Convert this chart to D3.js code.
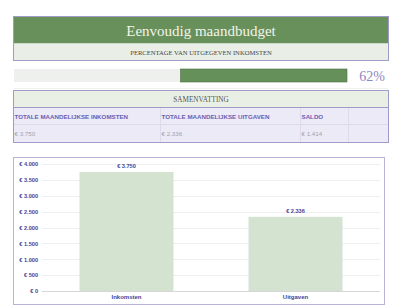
<!DOCTYPE html>
<html>
<head>
<meta charset="utf-8">
<script src="https://cdn.jsdelivr.net/npm/d3@7"></script>
<style>
  body { margin: 0; background: #fff; }
  svg { display: block; }
</style>
</head>
<body>
<svg id="chart" width="400" height="308"></svg>
<script>
// gegevens
var categories = ['Inkomsten', 'Uitgaven'];
var amounts = [3750, 2336];
var yTicks = [0, 500, 1000, 1500, 2000, 2500, 3000, 3500, 4000];
var summaryHeaders = ['TOTALE MAANDELIJKSE INKOMSTEN', 'TOTALE MAANDELIJKSE UITGAVEN', 'SALDO'];
var summaryValues = [3750, 2336, 1414];
var percentSpent = 62;

var svg = d3.select('#chart');
var euro = function (v) {
    return '€ ' + d3.format(',')(v).replace(/,/g, '.');
};
var serif = '"Liberation Serif", "DejaVu Serif", serif';
var sans = '"Liberation Sans", Arial, sans-serif';
var border = '#9f9bc8';

// titelblok
svg.append('rect').attr('x', 13.5).attr('y', 16.5).attr('width', 375).attr('height', 27)
    .attr('fill', '#67905b');
svg.append('rect').attr('x', 13.5).attr('y', 43.5).attr('width', 375).attr('height', 17)
    .attr('fill', '#e9eee6');
svg.append('rect').attr('x', 13.5).attr('y', 16.5).attr('width', 375).attr('height', 44)
    .attr('fill', 'none').attr('stroke', border);
svg.append('text').attr('x', 201).attr('y', 35.5).attr('text-anchor', 'middle')
    .attr('font-family', serif).attr('font-size', 15).attr('fill', '#f4f4e8')
    .text('Eenvoudig maandbudget');
svg.append('text').attr('x', 201).attr('y', 55).attr('text-anchor', 'middle')
    .attr('font-family', serif).attr('font-size', 6.6).attr('fill', '#444')
    .text('PERCENTAGE VAN UITGEGEVEN INKOMSTEN');

// voortgangsbalk
var px = d3.scaleLinear().domain([-percentSpent, percentSpent]).range([14, 347]);
svg.append('rect').attr('x', px(-percentSpent)).attr('y', 69).attr('width', px(percentSpent) - px(-percentSpent))
    .attr('height', 13).attr('fill', '#eef0ed');
svg.append('rect').attr('x', px(0)).attr('y', 69).attr('width', px(percentSpent) - px(0))
    .attr('height', 13).attr('fill', '#66905a').attr('stroke', '#4e6e44').attr('stroke-width', 0.6);
svg.append('line').attr('x1', 14).attr('x2', 388).attr('y1', 88.5).attr('y2', 88.5)
    .attr('stroke', '#f0f0f0');
svg.append('text').attr('x', 385).attr('y', 80.5).attr('text-anchor', 'end')
    .attr('font-family', serif).attr('font-size', 14).attr('fill', '#8d87c4')
    .text(percentSpent + '%');

// samenvatting
var colX = [13.5, 160.5, 300.5, 348.5, 388.5];
svg.append('rect').attr('x', 13.5).attr('y', 90.5).attr('width', 375).attr('height', 17)
    .attr('fill', '#eaefe5');
svg.append('rect').attr('x', 13.5).attr('y', 107.5).attr('width', 375).attr('height', 35)
    .attr('fill', '#eceaf6');
svg.append('line').attr('x1', 13.5).attr('x2', 388.5).attr('y1', 107.5).attr('y2', 107.5)
    .attr('stroke', border);
svg.append('line').attr('x1', 13.5).attr('x2', 388.5).attr('y1', 124.5).attr('y2', 124.5)
    .attr('stroke', '#dddbe9');
for (var c = 1; c < 4; c++) {
    svg.append('line').attr('x1', colX[c]).attr('x2', colX[c]).attr('y1', 108).attr('y2', 142)
        .attr('stroke', '#dddbe9');
}
svg.append('rect').attr('x', 13.5).attr('y', 90.5).attr('width', 375).attr('height', 52)
    .attr('fill', 'none').attr('stroke', border);
svg.append('text').attr('x', 201).attr('y', 102).attr('text-anchor', 'middle')
    .attr('font-family', serif).attr('font-size', 7.2).attr('fill', '#555')
    .text('SAMENVATTING');
summaryHeaders.forEach(function (h, i) {
    svg.append('text').attr('x', colX[i] + 1).attr('y', 119)
        .attr('font-family', sans).attr('font-size', 6.2).attr('font-weight', 'bold')
        .attr('fill', '#6a60b4').text(h);
    svg.append('text').attr('x', colX[i] + 1).attr('y', 136)
        .attr('font-family', sans).attr('font-size', 6.2)
        .attr('fill', '#a3a1ad').text(euro(summaryValues[i]));
});

// grafiek
svg.append('rect').attr('x', 13.5).attr('y', 157.5).attr('width', 371).attr('height', 147)
    .attr('fill', '#fff').attr('stroke', '#b7b3da');

var x = d3.scaleBand().domain(categories).range([42, 380]).paddingInner(0.444).paddingOuter(0.222);
var y = d3.scaleLinear().domain([0, 4000]).range([291, 164]);

svg.append('g').selectAll('line').data(yTicks).join('line')
    .attr('x1', 42).attr('x2', 380)
    .attr('y1', function (d) { return Math.round(y(d)) + 0.5; })
    .attr('y2', function (d) { return Math.round(y(d)) + 0.5; })
    .attr('stroke', function (d) { return d === 0 ? '#d6d6d6' : '#efefef'; });

var yAxis = svg.append('g').attr('transform', 'translate(38,0)')
    .call(d3.axisLeft(y).tickValues(yTicks).tickSize(0).tickPadding(0).tickFormat(euro));
yAxis.select('.domain').remove();
yAxis.selectAll('text').attr('font-family', sans).attr('font-size', 5.6)
    .attr('font-weight', 'bold').attr('fill', '#4b4296');

svg.append('g').selectAll('rect').data(amounts).join('rect')
    .attr('x', function (d, i) { return x(categories[i]); })
    .attr('y', function (d) { return y(d); })
    .attr('width', x.bandwidth())
    .attr('height', function (d) { return y(0) - y(d); })
    .attr('fill', '#d4e2d0');

svg.append('g').selectAll('text').data(amounts).join('text')
    .attr('x', function (d, i) { return x(categories[i]) + x.bandwidth() / 2; })
    .attr('y', function (d) { return y(d) - 3.5; })
    .attr('text-anchor', 'middle')
    .attr('font-family', sans).attr('font-size', 5.6).attr('font-weight', 'bold')
    .attr('fill', '#4b4296')
    .text(function (d) { return euro(d); });

var xAxis = svg.append('g').attr('transform', 'translate(0,291)')
    .call(d3.axisBottom(x).tickSize(0).tickPadding(4));
xAxis.select('.domain').remove();
xAxis.selectAll('text').attr('font-family', sans).attr('font-size', 6)
    .attr('font-weight', 'bold').attr('fill', '#4b4296');
</script>
</body>
</html>
